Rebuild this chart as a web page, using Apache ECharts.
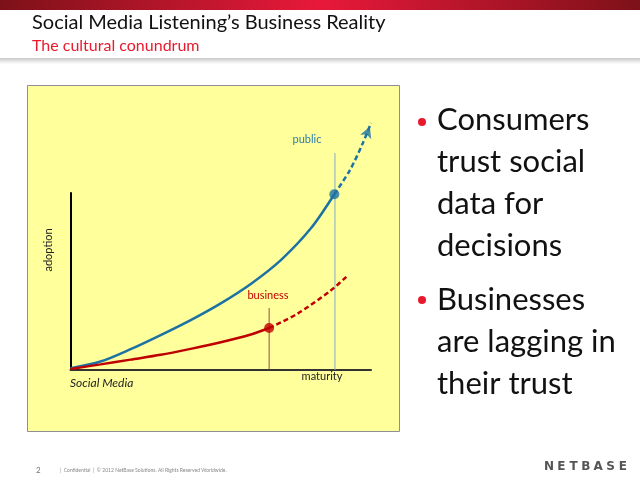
<!DOCTYPE html>
<html><head><meta charset="utf-8">
<script src="https://cdn.jsdelivr.net/npm/echarts@6/dist/echarts.min.js"></script>
<style>html,body{margin:0;padding:0;background:#fff}#c{width:640px;height:480px}</style>
</head><body><div id="c"></div>
<script>
// data (x = maturity, y = adoption, arbitrary units)
const publicSolid = [[0,0.7],[10,4.5],[20,11.5],[30,19.5],[40,28],[50,37.5],[60,48.5],[70,62],[80,80],[87.8,99.3]];
const publicDash  = [[87.8,99.3],[93,113],[97.3,128.3],[100,139.7]];
const businessSolid = [[0,0.3],[10,2.9],[20,5.6],[30,8.3],[40,11.7],[50,15.4],[60,19.8],[66.1,23.5]];
const businessDash  = [[66.1,23.5],[75.4,31.5],[86.4,44.5],[92.4,53.5]];
const publicNow = [87.8,99.3];
const businessNow = [66.1,23.5];
const publicMarker = [[88,0],[88,122.7]];
const businessMarker = [[66.1,0],[66.1,34.8]];
const arrowTip = [99.6,137.5];
const titleText = "Social Media Listening\u2019s Business Reality";
const subtitleText = "The cultural conundrum";
const bullet1 = ["Consumers","trust social","data for","decisions"];
const bullet2 = ["Businesses","are lagging in","their trust"];
const footerText = "|  Confidential  |  \u00A9 2012 NetBase Solutions. All Rights Reserved Worldwide.";
const logo = "NETBASE";

const BLUE = '#1c72a4', RED = '#c00000';
const F = 'Lato, "Noto Sans", sans-serif';
const chart = echarts.init(document.getElementById('c'));

const graphics = [
  {type:'rect', z:-10, shape:{x:0,y:0,width:640,height:10},
   style:{fill:new echarts.graphic.LinearGradient(0,0,1,0,[{offset:0,color:'#7d1119'},{offset:0.5,color:'#e8193a'},{offset:1,color:'#7d1119'}])}},
  {type:'rect', z:-10, shape:{x:0,y:58,width:640,height:6},
   style:{fill:new echarts.graphic.LinearGradient(0,0,0,1,[{offset:0,color:'#c8c8c8'},{offset:1,color:'#ffffff'}])}},
  {type:'text', left:32, top:13, style:{text:titleText, font:'20px '+F, fill:'#111'}},
  {type:'text', left:32, top:38, style:{text:subtitleText, font:'16px '+F, fill:'#e8192c'}},
  {type:'rect', z:-10, shape:{x:27.5,y:85.5,width:372,height:346}, style:{fill:'#ffff9c', stroke:'#8e8e94', lineWidth:1}},
  {type:'text', x:307, y:139, style:{text:'public', font:'11px '+F, fill:'#2a7fae', align:'center', verticalAlign:'middle'}},
  {type:'text', x:268, y:295, style:{text:'business', font:'11px '+F, fill:RED, align:'center', verticalAlign:'middle'}},
  {type:'text', x:48, y:250, rotation:Math.PI/2, style:{text:'adoption', font:'11px '+F, fill:'#222', align:'center', verticalAlign:'middle'}},
  {type:'text', x:70, y:383, style:{text:'Social Media', font:'italic 12px '+F, fill:'#222', verticalAlign:'middle'}},
  {type:'text', x:322, y:376, style:{text:'maturity', font:'11px '+F, fill:'#222', align:'center', verticalAlign:'middle'}},
  {type:'circle', shape:{cx:422, cy:122, r:4}, style:{fill:'#e8192c'}},
  {type:'circle', shape:{cx:422, cy:300, r:4}, style:{fill:'#e8192c'}},
  {type:'text', x:36, y:470, style:{text:'2', font:'8px '+F, fill:'#777', verticalAlign:'middle'}},
  {type:'text', x:60, y:470, style:{text:footerText, font:'5px '+F, fill:'#888', verticalAlign:'middle'}}
];
const base1 = [135,177,219,261], base2 = [315,357,399];
bullet1.forEach((t,i)=>graphics.push({type:'text', x:437, y:base1[i], style:{text:t, font:'31px '+F, fill:'#111', verticalAlign:'bottom'}}));
bullet2.forEach((t,i)=>graphics.push({type:'text', x:437, y:base2[i], style:{text:t, font:'31px '+F, fill:'#111', verticalAlign:'bottom'}}));
logo.split('').forEach((ch,i)=>graphics.push({type:'text', x:549+i*12.3, y:467, style:{text:ch, font:'bold 12px "DejaVu Sans", sans-serif', fill:'#555', align:'center', verticalAlign:'middle'}}));

chart.setOption({
  animation:false,
  backgroundColor:'#fff',
  graphic:graphics,
  grid:{left:70.5, right:269, top:193, bottom:110.5},
  xAxis:{type:'value', min:0, max:100, axisLine:{lineStyle:{color:'#333', width:2}}, axisTick:{show:false}, axisLabel:{show:false}, splitLine:{show:false}},
  yAxis:{type:'value', min:0, max:100, axisLine:{show:true, lineStyle:{color:'#000', width:2}}, axisTick:{show:false}, axisLabel:{show:false}, splitLine:{show:false}},
  series:[
    {type:'line', data:publicMarker, clip:false, symbol:'none', lineStyle:{color:'#a9c7bd', width:1.5}, z:1},
    {type:'line', data:businessMarker, clip:false, symbol:'none', lineStyle:{color:'#a04848', width:1}, z:1},
    {type:'line', data:publicSolid, smooth:0.3, clip:false, symbol:'none', lineStyle:{color:BLUE, width:2.5}},
    {type:'line', data:publicDash, smooth:0.3, clip:false, symbol:'none', lineStyle:{color:BLUE, width:2.5, type:[5,3]}},
    {type:'line', data:businessSolid, smooth:0.3, clip:false, symbol:'none', lineStyle:{color:RED, width:2.5}},
    {type:'line', data:businessDash, smooth:0.3, clip:false, symbol:'none', lineStyle:{color:RED, width:2.5, type:[5,3]}},
    {type:'scatter', data:[publicNow], clip:false, symbol:'circle', symbolSize:10, itemStyle:{color:BLUE}, z:5},
    {type:'scatter', data:[businessNow], clip:false, symbol:'circle', symbolSize:10, itemStyle:{color:RED}, z:5},
    {type:'scatter', data:[arrowTip], clip:false, symbol:'arrow', symbolSize:[9,11], symbolRotate:-22, itemStyle:{color:BLUE}, z:5}
  ]
});
</script></body></html>
